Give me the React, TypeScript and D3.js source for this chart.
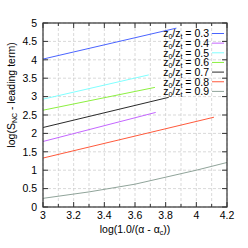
import React from "react";
import * as d3 from "d3";

const legendLabels = ["0.3", "0.4", "0.5", "0.6", "0.7", "0.8", "0.9"];
const colors = ["#4a64ff", "#c466ff", "#80ffff", "#8cf040", "#2a2a2a", "#ff5a3c", "#90a49a"];

const xs03 = [3.0, 3.87];
const ys03 = [4.02, 4.86];
const xs04 = [3.0, 3.735];
const ys04 = [1.78, 2.57];
const xs05 = [3.0, 3.69];
const ys05 = [2.93, 3.59];
const xs06 = [3.0, 3.73];
const ys06 = [2.63, 3.25];
const xs07 = [3.0, 3.82];
const ys07 = [2.16, 2.98];
const xs08 = [3.0, 4.115];
const ys08 = [1.33, 2.44];
const xs09 = [3.0, 3.3, 3.6, 4.0, 4.2];
const ys09 = [0.235, 0.41, 0.62, 1.0, 1.21];

const seriesX = [xs03, xs04, xs05, xs06, xs07, xs08, xs09];
const seriesY = [ys03, ys04, ys05, ys06, ys07, ys08, ys09];

const xTicks = [3, 3.2, 3.4, 3.6, 3.8, 4, 4.2];
const xMinor = [3.1, 3.3, 3.5, 3.7, 3.9, 4.1];
const yTicks = [0, 0.5, 1, 1.5, 2, 2.5, 3, 3.5, 4, 4.5, 5];

const W = 248, H = 248;
const L = 43, R = 227, T = 23, B = 207;
const FONT = "'Liberation Sans Narrow', 'Liberation Sans', Arial, sans-serif";

export default function App() {
  const x = d3.scaleLinear().domain([3, 4.2]).range([L, R]);
  const y = d3.scaleLinear().domain([0, 5]).range([B, T]);
  const line = d3.line<[number, number]>().x(d => x(d[0])).y(d => y(d[1]));
  const fs = 10.5;
  return (
    <svg width={W} height={H} style={{ position: "absolute", left: 0, top: 0, background: "#fff" }}
      fontFamily={FONT}>
      <rect x={0} y={0} width={W} height={H} fill="#fff" />
      {/* grid */}
      {[...xTicks, ...xMinor].map((v, i) => (
        <line key={"gx" + i} x1={x(v)} x2={x(v)} y1={T} y2={B} stroke="#cfcfcf" strokeWidth={0.8} strokeDasharray="3,2" />
      ))}
      {yTicks.map((v, i) => (
        <line key={"gy" + i} x1={L} x2={R} y1={y(v)} y2={y(v)} stroke="#cfcfcf" strokeWidth={0.8} strokeDasharray="3,2" />
      ))}
      {/* ticks */}
      {xTicks.map((v, i) => (
        <g key={"xt" + i}>
          <line x1={x(v)} x2={x(v)} y1={B} y2={B - 5} stroke="#333" />
          <line x1={x(v)} x2={x(v)} y1={T} y2={T + 5} stroke="#333" />
          <text x={x(v)} y={219} fontSize={fs} textAnchor="middle" fill="#000">{String(v)}</text>
        </g>
      ))}
      {xMinor.map((v, i) => (
        <g key={"xm" + i}>
          <line x1={x(v)} x2={x(v)} y1={B} y2={B - 3} stroke="#333" />
          <line x1={x(v)} x2={x(v)} y1={T} y2={T + 3} stroke="#333" />
        </g>
      ))}
      {yTicks.map((v, i) => (
        <g key={"yt" + i}>
          <line x1={L} x2={L + 5} y1={y(v)} y2={y(v)} stroke="#333" />
          <line x1={R} x2={R - 5} y1={y(v)} y2={y(v)} stroke="#333" />
          <text x={37} y={y(v) + 3.8} fontSize={fs} textAnchor="end" fill="#000">{String(v)}</text>
        </g>
      ))}
      {/* data */}
      {seriesX.map((xsArr, i) => {
        const pts: [number, number][] = xsArr.map((xv, j) => [xv, seriesY[i][j]]);
        return <path key={"s" + i} d={line(pts) || ""} fill="none" stroke={colors[i]} strokeWidth={1} />;
      })}
      {/* frame */}
      <rect x={L} y={T} width={R - L} height={B - T} fill="none" stroke="#333" strokeWidth={1.2} />
      {/* legend */}
      {legendLabels.map((lab, i) => {
        const cy = 33.5 + i * 9.65;
        return (
          <g key={"lg" + i}>
            <text x={209} y={cy + 3.8} fontSize={fs} textAnchor="end" fill="#000">
              z<tspan fontSize={7} dy={2}>0</tspan><tspan dy={-2}>/z</tspan><tspan fontSize={7} dy={2}>t</tspan><tspan dy={-2}>{" = " + lab}</tspan>
            </text>
            <line x1={212} x2={224} y1={cy} y2={cy} stroke={colors[i]} strokeWidth={1} />
          </g>
        );
      })}
      {/* axis labels */}
      <text x={135} y={233} fontSize={fs} textAnchor="middle" fill="#000">
        log(1.0/(α - α<tspan fontSize={7} dy={2}>c</tspan><tspan dy={-2}>))</tspan>
      </text>
      <text transform="translate(15,95) rotate(-90)" fontSize={fs} textAnchor="middle" fill="#000">
        log(S<tspan fontSize={7} dy={2}>NC</tspan><tspan dy={-2}> - leading term)</tspan>
      </text>
    </svg>
  );
}
